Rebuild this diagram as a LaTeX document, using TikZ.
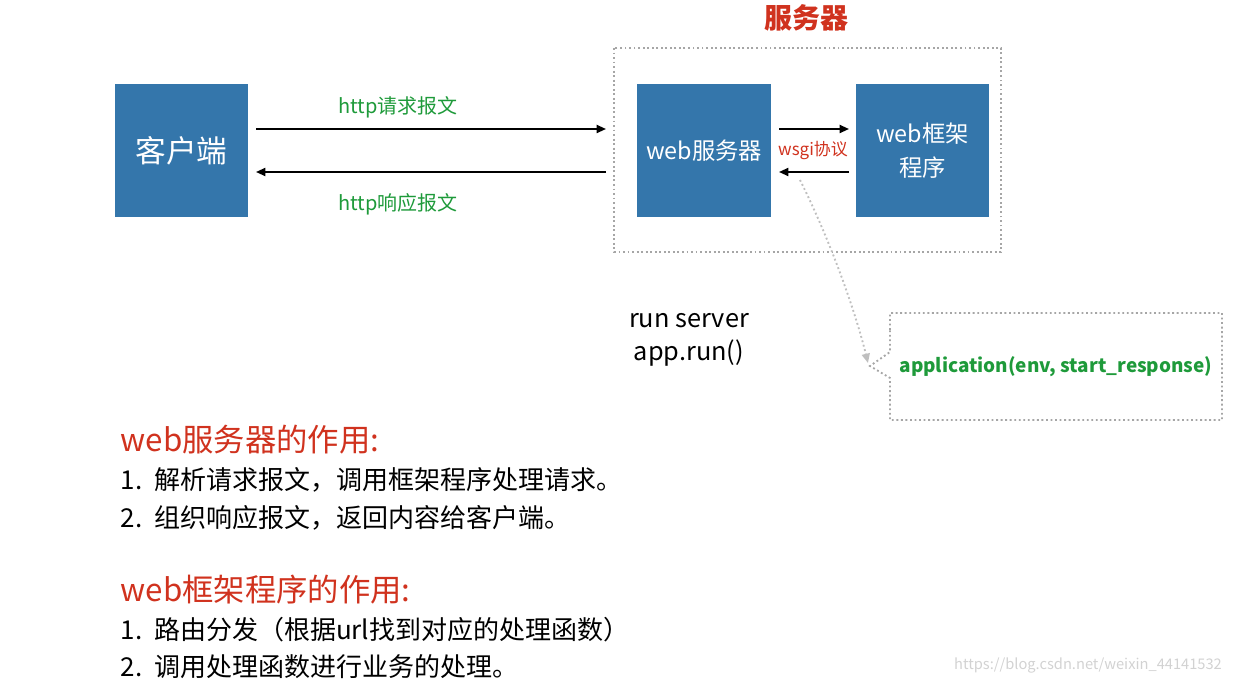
\documentclass[tikz,border=0pt]{standalone}
\usepackage{fontspec}
\setmainfont{Noto Sans CJK SC}
\usetikzlibrary{arrows.meta}
\definecolor{boxblue}{HTML}{3476AB}
\definecolor{tred}{HTML}{D0321E}
\definecolor{tgreen}{HTML}{1E9A3A}
\begin{document}
\begin{tikzpicture}[x=0.75pt,y=-0.75pt,
  box/.style={fill=boxblue,draw=none,text=white,align=center,inner sep=0},
  arr/.style={-{Triangle[length=7pt,width=6pt]},line width=1.4pt},
  dot/.style={draw=gray!70,dotted,line width=1.4pt},
  lst/.style={anchor=west,font=\fontsize{19.5}{22}\selectfont},
  head/.style={anchor=west,text=tred,font=\fontsize{23.5}{26}\selectfont}]
\useasboundingbox (0,0) rectangle (1233,684);
\node[text=tred,font=\bfseries\fontsize{21}{24}\selectfont] (title) at (806,18) {服务器};
\draw[dot] (614,48) rectangle (1001,252);
\node[box,minimum width=100pt,minimum height=100pt,font=\fontsize{23}{26}\selectfont] (client) at (181.5,150.5) {客户端};
\node[box,minimum width=100.5pt,minimum height=100pt,font=\fontsize{17.5}{20}\selectfont] (ws) at (704,150.5) {web服务器};
\node[box,minimum width=100pt,minimum height=100pt,font=\fontsize{17.5}{25}\selectfont] (fw) at (922.5,150.5) {web框架\\程序};
\coordinate (a1) at (256,129); \coordinate (a2) at (606,129);
\coordinate (b1) at (606,172); \coordinate (b2) at (256,172);
\draw[arr] (a1) -- (a2);
\draw[arr] (b1) -- (b2);
\node[text=tgreen,font=\fontsize{15}{18}\selectfont] (l1) at (398,107) {http请求报文};
\node[text=tgreen,font=\fontsize{15}{18}\selectfont] (l2) at (398,204) {http响应报文};
\coordinate (c1) at (779,129); \coordinate (c2) at (849,129);
\coordinate (d1) at (849,172); \coordinate (d2) at (779,172);
\draw[arr] (c1) -- (c2);
\draw[arr] (d1) -- (d2);
\node[text=tred,font=\fontsize{12.7}{14}\selectfont] (wsgi) at (813,151) {wsgi协议};
\coordinate (p0) at (800,180); \coordinate (p1) at (868,363);
\draw[dot,gray!50,-{Triangle[length=7pt,width=6pt]}] (p0) .. controls (830,240) and (855,310) .. (p1);
\draw[dot] (890,330) -- (890,313) -- (1222,313) -- (1222,420) -- (890,420) -- (890,378) -- (870,366) -- (890,352) -- cycle;
\node[text=tgreen,font=\bfseries\fontsize{14.2}{16}\selectfont] (app) at (1056,367) {application(env, start\_response)};
\node[align=center,font=\fontsize{19}{25}\selectfont] (run) at (689,340) {run server\\app.run()};
\node[head] (h1) at (116,440) {web服务器的作用:};
\node[lst] (i1) at (116,480) {1.\ \ 解析请求报文，调用框架程序处理请求。};
\node[lst] (i2) at (116,518) {2.\ \ 组织响应报文，返回内容给客户端。};
\node[head] (h2) at (116,590) {web框架程序的作用:};
\node[lst] (i3) at (116,630) {1.\ \ 路由分发（根据url找到对应的处理函数）};
\node[lst] (i4) at (116,667) {2.\ \ 调用处理函数进行业务的处理。};
\node[text=gray!35,font=\fontsize{11}{13}\selectfont] (wm) at (1088,665) {https://blog.csdn.net/weixin\_44141532};
\end{tikzpicture}
\end{document}
